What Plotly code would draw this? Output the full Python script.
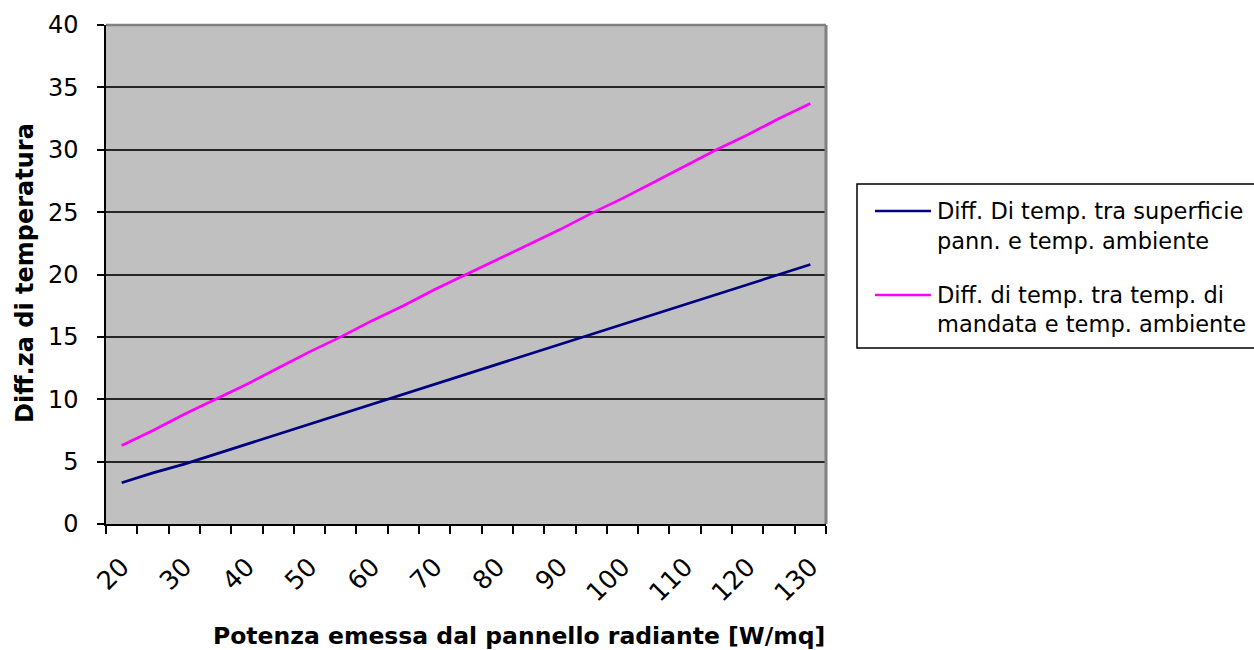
import plotly.graph_objects as go

# Emitted power of the radiant panel [W/mq]
potenza = [20, 25, 30, 35, 40, 45, 50, 55, 60, 65, 70, 75,
           80, 85, 90, 95, 100, 105, 110, 115, 120, 125, 130]

# Surface temperature minus room temperature
diff_superficie = [3.3, 4.1, 4.8, 5.6, 6.4, 7.2, 8.0, 8.8, 9.6, 10.4, 11.2, 12.0,
                   12.8, 13.6, 14.4, 15.2, 16.0, 16.8, 17.6, 18.4, 19.2, 20.0, 20.8]

# Supply water temperature minus room temperature
diff_mandata = [6.3, 7.5, 8.8, 10.0, 11.2, 12.5, 13.8, 15.0, 16.3, 17.5, 18.8, 20.0,
                21.2, 22.4, 23.6, 24.9, 26.1, 27.4, 28.7, 30.0, 31.2, 32.5, 33.7]

x_labels = ["20", "30", "40", "50", "60", "70", "80", "90", "100", "110", "120", "130"]
x_label_vals = [20, 30, 40, 50, 60, 70, 80, 90, 100, 110, 120, 130]

serie_nomi = [
    ["Diff. Di temp. tra superficie", "pann. e temp. ambiente"],
    ["Diff. di temp. tra temp. di", "mandata e temp. ambiente"],
]
serie_colori = ["#000080", "#FF00FF"]

FONT = "DejaVu Sans, Arial, sans-serif"
W, H = 1254, 650
PL, PR, PT, PB = 106, 826, 25, 524  # plot area in pixels


def px(xp):
    return (xp - PL) / (PR - PL)


def py(yp):
    return (PB - yp) / (PB - PT)


fig = go.Figure()
for ys, nome, col in zip([diff_superficie, diff_mandata], serie_nomi, serie_colori):
    fig.add_trace(go.Scatter(
        x=potenza, y=ys, mode="lines", name=" ".join(nome),
        line=dict(color=col, width=2.7), showlegend=False,
    ))

shapes = [
    # top and right border of the plot area
    dict(type="line", xref="paper", yref="paper", x0=0, x1=1, y0=1, y1=1,
         line=dict(color="#808080", width=2.5), layer="above"),
    dict(type="line", xref="paper", yref="paper", x0=1, x1=1, y0=0, y1=1,
         line=dict(color="#808080", width=3), layer="above"),
    # legend frame
    dict(type="rect", xref="paper", yref="paper",
         x0=px(857), x1=px(1262), y0=py(348), y1=py(184),
         line=dict(color="black", width=1.5), fillcolor="white", layer="above"),
]

annotations = [
    dict(text="<b>Potenza emessa dal pannello radiante [W/mq]</b>",
         xref="paper", yref="paper", x=px(519), y=py(636),
         xanchor="center", yanchor="middle", showarrow=False,
         font=dict(family=FONT, size=23.5, color="black")),
    dict(text="<b>Diff.za di temperatura</b>", textangle=-90,
         xref="paper", yref="paper", x=px(25), y=py(273),
         xanchor="center", yanchor="middle", showarrow=False,
         font=dict(family=FONT, size=24, color="black")),
]

legend_rows = [(211, 241), (295, 324)]
for (y1, y2), nome, col in zip(legend_rows, serie_nomi, serie_colori):
    shapes.append(dict(type="line", xref="paper", yref="paper",
                       x0=px(875), x1=px(931), y0=py(y1), y1=py(y1),
                       line=dict(color=col, width=2.5), layer="above"))
    for yy, riga in zip((y1, y2), nome):
        annotations.append(dict(text=riga, xref="paper", yref="paper",
                                x=px(935), y=py(yy), xanchor="left", yanchor="middle",
                                showarrow=False,
                                font=dict(family=FONT, size=22.5, color="black")))

fig.update_layout(
    width=W, height=H,
    margin=dict(l=PL, r=W - PR, t=PT, b=H - PB),
    paper_bgcolor="white", plot_bgcolor="#C0C0C0",
    shapes=shapes, annotations=annotations,
    showlegend=False,
)

fig.update_xaxes(
    range=[17.5, 132.5], tickmode="array", tickvals=x_label_vals, ticktext=x_labels,
    tickangle=-45, ticks="", ticklabelstandoff=16,
    tickfont=dict(family=FONT, size=25.5, color="black"),
    showgrid=False, zeroline=False,
    showline=True, linecolor="black", linewidth=1.5,
    minor=dict(tick0=17.5, dtick=5, ticks="outside", ticklen=8,
               tickcolor="black", tickwidth=1.5, showgrid=False),
)

fig.update_yaxes(
    range=[0, 40], dtick=5, ticks="outside", ticklen=7, tickcolor="black", tickwidth=1.5,
    ticklabelstandoff=14,
    tickfont=dict(family=FONT, size=24, color="black"),
    showgrid=True, gridcolor="#262626", gridwidth=1.5, zeroline=False,
    showline=True, linecolor="black", linewidth=1.5,
)

fig.write_html("out.html")
